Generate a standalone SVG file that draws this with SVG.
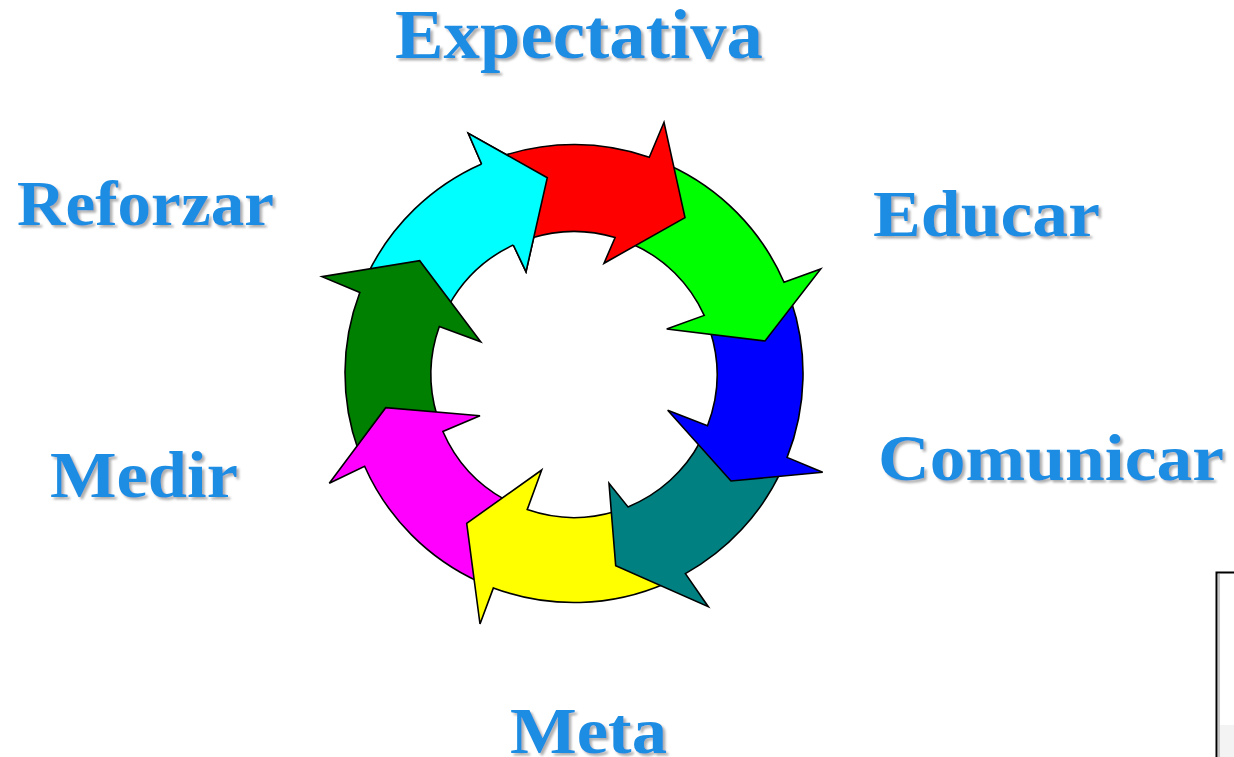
<svg xmlns="http://www.w3.org/2000/svg" width="1234" height="757" viewBox="0 0 1234 757">
<style>
.arrow{stroke:#000;stroke-width:1.6;stroke-linejoin:miter}
.edge{fill:none;stroke:#000;stroke-width:1.6;stroke-linejoin:miter}
.lbl{font-family:"Liberation Serif","Times New Roman",serif;font-weight:bold;fill:#1b8de3;filter:url(#sh)}
</style>
<defs>
<filter id="sh" x="-5%" y="-20%" width="115%" height="150%">
<feDropShadow dx="2.5" dy="2.5" stdDeviation="1.2" flood-color="#9a9a9a" flood-opacity="0.8"/>
</filter>
</defs>
<rect width="1234" height="757" fill="#fff"/>
<g id="cycle">
<g id="arrow-cyan"><path class="arrow" fill="#00ffff" d="M367.6,274.2 A229,229 0 0 1 481.6,164 L468.3,133.3 L547.3,177.7 L526,271.7 L513.3,245 A143,143 0 0 0 448.9,305.2 Z"/></g>
<g id="arrow-darkgreen"><path class="arrow" fill="#008000" d="M358.8,451.8 A229,229 0 0 1 359.8,292.5 L322,276.7 L419.7,260.7 L480.7,341.7 L439.3,326.5 A143,143 0 0 0 437,415.6 Z"/></g>
<g id="arrow-magenta"><path class="arrow" fill="#ff00ff" d="M479.8,582.2 A229,229 0 0 1 364.6,466.3 L329.3,483.3 L385.7,407.7 L480,415.7 L442.9,431.5 A143,143 0 0 0 505.3,499.9 Z"/></g>
<g id="arrow-yellow"><path class="arrow" fill="#ffff00" d="M666,583.2 A229,229 0 0 1 493.4,587.9 L480,624 L466.7,523.3 L541.7,470 L527.2,509.6 A143,143 0 0 0 615.1,511.5 Z"/></g>
<g id="arrow-teal"><path class="arrow" fill="#008080" d="M781.2,471 A229,229 0 0 1 685.4,573.6 L708.3,606.7 L615.7,565.7 L609,483.3 L628,506.9 A143,143 0 0 0 700.4,441.4 Z"/></g>
<g id="arrow-blue"><path class="arrow" fill="#0000ff" d="M790.8,299.7 A229,229 0 0 1 787.1,457.4 L822.7,472.3 L731,481 L667.7,410.3 L707.5,425.8 A143,143 0 0 0 710.2,331 Z"/></g>
<g id="arrow-green"><path class="arrow" fill="#00ff00" d="M668.6,165 A229,229 0 0 1 784,282.2 L820.7,269 L765,341 L666.7,329 L704.2,315.4 A143,143 0 0 0 632.2,243.9 Z"/></g>
<g id="arrow-red"><path class="arrow" fill="#ff0000" d="M500.6,156.6 A229,229 0 0 1 649.3,157.2 L664,122.3 L685,217.7 L604,263.3 L615.1,237.5 A143,143 0 0 0 530.5,238.3 Z"/></g>
<g id="arrow-cyan-head"><path fill="#00ffff" d="M481.6,164 L468.3,133.3 L547.3,177.7 L526,271.7 L513.3,245 Z"/><path class="edge" d="M481.6,164 L468.3,133.3 L547.3,177.7 L526,271.7 L513.3,245"/></g>
</g>
<g id="labels">
<g id="lbl-expectativa"><text class="lbl" x="395" y="58" font-size="69" textLength="368" lengthAdjust="spacingAndGlyphs">Expectativa</text></g>
<g id="lbl-educar"><text class="lbl" x="873" y="236" font-size="66" textLength="227" lengthAdjust="spacingAndGlyphs">Educar</text></g>
<g id="lbl-comunicar"><text class="lbl" x="878" y="480" font-size="66" textLength="346" lengthAdjust="spacingAndGlyphs">Comunicar</text></g>
<g id="lbl-meta"><text class="lbl" x="510" y="753" font-size="66" textLength="157" lengthAdjust="spacingAndGlyphs">Meta</text></g>
<g id="lbl-medir"><text class="lbl" x="50" y="497" font-size="66" textLength="188" lengthAdjust="spacingAndGlyphs">Medir</text></g>
<g id="lbl-reforzar"><text class="lbl" x="17" y="225" font-size="64" textLength="257" lengthAdjust="spacingAndGlyphs">Reforzar</text></g>
</g>
<g id="corner-box">
<rect x="1216.5" y="572.5" width="40" height="200" fill="#fff" stroke="#000" stroke-width="2"/>
<line x1="1219" y1="574" x2="1219" y2="757" stroke="#a0a0a0" stroke-width="1.2"/>
<rect x="1220" y="725" width="14" height="32" fill="#f3f3f3"/>
</g>
</svg>
